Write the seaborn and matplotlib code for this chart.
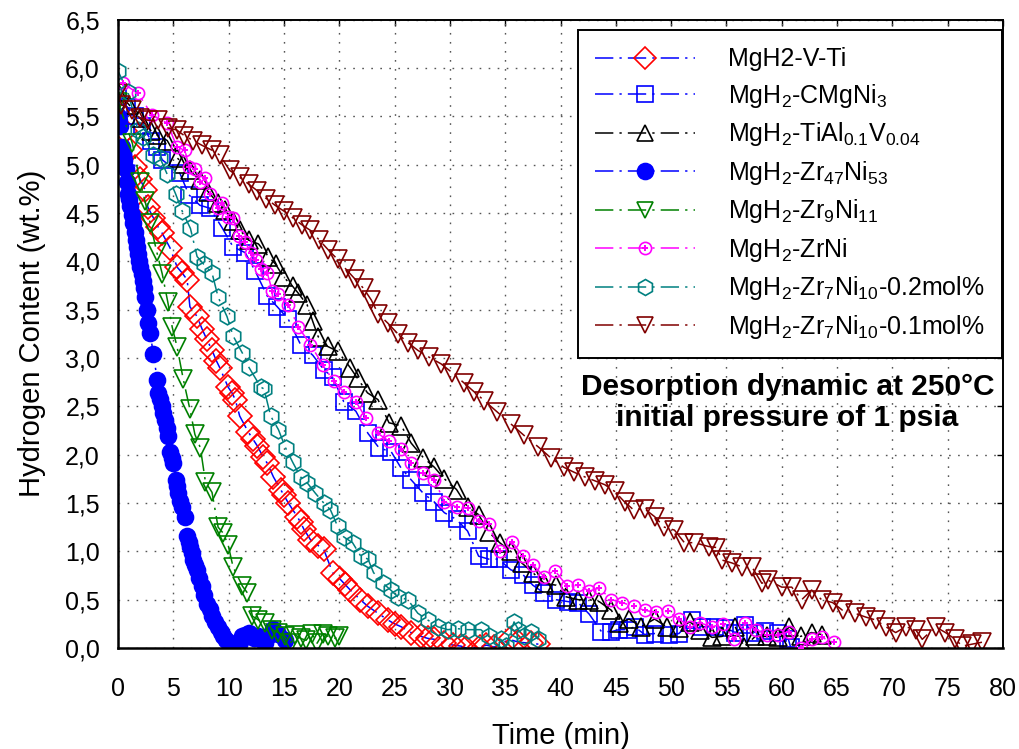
import matplotlib
matplotlib.use("Agg")
import matplotlib.pyplot as plt
from matplotlib.lines import Line2D
from matplotlib.legend_handler import HandlerTuple
from matplotlib.ticker import FuncFormatter, MultipleLocator
import seaborn as sns

# ---- desorption curves: time (min) vs hydrogen content (wt.%) ----
vti_t = [0.0, 0.6, 1.1, 1.55, 2.0, 2.45, 2.7, 3.2, 3.6, 4.0, 4.7, 5.35, 5.8, 6.25, 6.5,
         7.15, 7.6, 8.0, 8.5, 8.9, 9.2, 9.95, 10.3, 10.6, 11.0, 11.75, 12.2, 12.6, 13.1,
         13.5, 14.05, 14.7, 15.0, 15.4, 16.2, 16.5, 16.8, 17.4, 18.1, 18.6, 19.4, 20.1,
         20.5, 21.0, 21.9, 22.6, 23.5, 24.4, 25.0, 25.6, 26.5, 27.4, 28.0, 28.6, 29.5,
         30.3, 31.0, 31.5, 32.7, 33.3, 34.0, 35.4, 36.2, 37.3, 38.0]
vti_h = [5.57, 5.35, 5.15, 4.98, 4.85, 4.74, 4.56, 4.45, 4.36, 4.29, 4.14, 3.94, 3.88,
         3.81, 3.53, 3.43, 3.30, 3.20, 3.08, 2.97, 2.90, 2.70, 2.64, 2.57, 2.40, 2.24,
         2.16, 2.09, 1.98, 1.91, 1.77, 1.64, 1.58, 1.50, 1.36, 1.30, 1.23, 1.12, 1.06,
         1.02, 0.78, 0.71, 0.66, 0.60, 0.50, 0.43, 0.36, 0.29, 0.25, 0.22, 0.16, 0.12,
         0.10, 0.09, 0.05, 0.03, 0.02, 0.00, 0.01, 0.03, 0.01, 0.09, 0.06, 0.05, 0.04]

cmgni_t = [0.0, 0.8, 1.5, 2.2, 3.0, 3.5, 4.0, 5.6, 6.4, 7.4, 8.3, 9.4, 10.4, 11.5, 12.4,
           13.5, 14.4, 15.4, 16.5, 17.6, 18.6, 19.4, 20.4, 21.5, 22.6, 23.6, 24.7, 25.6,
           26.5, 27.6, 28.6, 29.5, 30.6, 31.6, 32.6, 33.5, 34.4, 35.5, 36.6, 37.5, 38.5,
           39.6, 40.7, 41.6, 42.6, 43.7, 44.6, 45.3, 46.1, 46.7, 47.6, 48.5, 49.8, 50.7,
           51.9, 52.8, 54.0, 54.9, 55.8, 56.7, 57.6, 58.5, 59.7, 60.6, 60.8]
cmgni_h = [5.70, 5.60, 5.50, 5.40, 5.25, 5.18, 5.05, 4.91, 4.69, 4.58, 4.55, 4.35, 4.15,
           4.09, 3.90, 3.64, 3.53, 3.40, 3.14, 3.03, 2.88, 2.80, 2.55, 2.45, 2.22, 2.07,
           2.03, 1.86, 1.74, 1.60, 1.51, 1.40, 1.33, 1.21, 0.95, 0.92, 0.92, 0.81, 0.76,
           0.65, 0.57, 0.50, 0.48, 0.47, 0.35, 0.17, 0.17, 0.19, 0.19, 0.22, 0.14, 0.15,
           0.14, 0.15, 0.29, 0.22, 0.22, 0.21, 0.16, 0.24, 0.16, 0.18, 0.16, 0.09, 0.01]

tial_t = [0.0, 1.0, 2.0, 3.0, 3.5, 4.45, 5.35, 5.9, 6.5, 7.4, 8.15, 9.05, 9.7, 10.4, 11.05,
          11.8, 12.7, 13.6, 14.25, 14.95, 15.8, 16.3, 17.1, 17.6, 18.1, 18.95, 19.85, 21.0,
          21.65, 22.55, 23.5, 24.5, 25.6, 26.5, 27.6, 28.6, 29.5, 30.6, 31.6, 32.6, 33.5,
          34.5, 35.5, 36.5, 37.5, 38.5, 39.6, 40.5, 41.6, 42.6, 43.5, 44.6, 45.3, 46.2,
          47.3, 48.5, 49.6, 50.7, 51.7, 52.6, 53.7, 54.6, 55.8, 56.6, 57.6, 58.7, 59.7,
          60.7, 61.7, 62.7, 63.6]
tial_h = [5.75, 5.62, 5.48, 5.35, 5.31, 5.25, 5.07, 5.01, 4.94, 4.84, 4.72, 4.60, 4.53,
          4.42, 4.32, 4.22, 4.18, 4.05, 3.97, 3.84, 3.74, 3.67, 3.55, 3.38, 3.22, 3.12,
          3.07, 2.90, 2.79, 2.64, 2.57, 2.33, 2.30, 2.12, 1.97, 1.87, 1.75, 1.64, 1.46,
          1.38, 1.20, 1.09, 1.00, 0.88, 0.78, 0.67, 0.65, 0.53, 0.50, 0.50, 0.48, 0.39,
          0.26, 0.30, 0.22, 0.30, 0.22, 0.21, 0.27, 0.19, 0.11, 0.12, 0.22, 0.01, 0.12,
          0.12, 0.11, 0.22, 0.12, 0.16, 0.14]

zr47_t = [0.0, 0.1, 0.2, 0.35, 0.45, 0.55, 0.7, 0.8, 0.9, 1.0, 1.1, 1.25, 1.35, 1.5, 1.6,
          1.7, 1.8, 1.9, 2.0, 2.15, 2.25, 2.35, 2.45, 2.6, 2.75, 2.9, 3.2, 3.55, 3.65, 3.8,
          4.0, 4.1, 4.25, 4.4, 4.5, 4.7, 4.85, 5.0, 5.2, 5.3, 5.45, 5.6, 5.8, 6.05, 6.25,
          6.4, 6.5, 6.65, 6.8, 7.0, 7.15, 7.35, 7.6, 7.8, 8.05, 8.3, 8.5, 8.8, 9.05, 9.3,
          9.5, 9.8, 10.15, 10.5, 10.8, 11.0, 11.25, 11.5, 11.8, 12.0, 12.25, 12.5, 12.7,
          13.0, 13.3, 13.6, 14.0, 14.5, 15.1]
zr47_h = [5.50, 5.45, 5.40, 5.18, 5.12, 5.05, 4.96, 4.82, 4.70, 4.64, 4.57, 4.48, 4.40,
          4.30, 4.22, 4.15, 4.08, 4.00, 3.94, 3.87, 3.80, 3.72, 3.63, 3.50, 3.36, 3.26,
          3.04, 2.77, 2.64, 2.58, 2.50, 2.43, 2.36, 2.28, 2.19, 2.03, 1.97, 1.91, 1.74,
          1.68, 1.60, 1.52, 1.46, 1.36, 1.16, 1.10, 1.05, 0.98, 0.91, 0.86, 0.81, 0.72,
          0.64, 0.55, 0.46, 0.40, 0.33, 0.27, 0.22, 0.17, 0.12, 0.08, 0.05, 0.03, 0.01,
          0.06, 0.12, 0.14, 0.16, 0.13, 0.10, 0.11, 0.12, 0.08, 0.05, 0.12, 0.20, 0.15,
          0.08]

zr9_t = [0.0, 1.3, 2.0, 2.45, 2.9, 3.5, 4.0, 4.5, 4.9, 5.35, 5.9, 6.5, 6.95, 7.45, 7.9,
         8.5, 9.05, 9.5, 9.95, 10.4, 11.25, 11.7, 12.15, 12.7, 13.3, 13.95, 14.5, 15.1,
         15.6, 16.0, 16.5, 17.0, 17.5, 18.0, 18.5, 19.0, 19.6, 20.0]
zr9_h = [5.65, 5.22, 4.82, 4.62, 4.40, 4.10, 3.87, 3.58, 3.32, 3.11, 2.78, 2.47, 2.21,
         2.07, 1.72, 1.61, 1.25, 1.19, 1.07, 0.84, 0.64, 0.57, 0.33, 0.29, 0.26, 0.19,
         0.16, 0.12, 0.05, 0.14, 0.10, 0.08, 0.15, 0.05, 0.15, 0.12, 0.10, 0.12]

zrni_t = [0.45, 1.8, 3.1, 4.45, 5.35, 6.05, 6.4, 7.0, 7.45, 7.9, 8.35, 9.0, 9.4, 9.9, 10.4,
          10.9, 11.5, 12.0, 12.5, 12.9, 13.5, 13.95, 14.5, 15.4, 16.3, 17.4, 18.5, 19.5,
          20.4, 21.5, 22.4, 23.5, 24.5, 25.6, 26.5, 27.6, 28.6, 29.5, 30.6, 31.6, 32.6,
          33.5, 34.5, 35.6, 36.6, 37.5, 38.5, 39.5, 40.6, 41.6, 42.6, 43.5, 44.6, 45.6,
          46.6, 47.6, 48.6, 49.7, 50.7, 51.7, 52.6, 53.7, 54.7, 55.7, 56.7, 57.7, 58.7,
          59.7, 60.7, 61.7, 62.7, 63.6, 64.7]
zrni_h = [5.84, 5.74, 5.51, 5.43, 5.18, 5.15, 4.98, 4.96, 4.82, 4.86, 4.70, 4.55, 4.60,
          4.46, 4.45, 4.26, 4.20, 4.09, 4.01, 3.92, 3.88, 3.69, 3.66, 3.55, 3.32, 3.14,
          2.93, 2.76, 2.65, 2.55, 2.38, 2.22, 2.14, 2.06, 1.91, 1.81, 1.74, 1.51, 1.46,
          1.45, 1.31, 1.28, 1.00, 1.10, 0.95, 0.86, 0.74, 0.80, 0.64, 0.65, 0.59, 0.62,
          0.50, 0.47, 0.43, 0.39, 0.37, 0.38, 0.30, 0.22, 0.26, 0.22, 0.25, 0.09, 0.26,
          0.19, 0.14, 0.14, 0.17, 0.00, 0.09, 0.11, 0.06]

zr7_02_t = [0.0, 0.9, 1.8, 2.3, 3.2, 3.8, 4.45, 5.2, 5.8, 6.55, 7.15, 7.75, 8.5, 9.05, 9.85,
            10.4, 11.25, 11.8, 12.9, 13.2, 13.8, 14.5, 15.15, 15.8, 16.5, 17.1, 17.85,
            18.6, 19.2, 19.85, 20.4, 21.2, 21.95, 22.6, 23.1, 23.95, 24.65, 25.3, 26.2,
            27.1, 28.0, 28.9, 29.8, 30.7, 31.6, 32.8, 33.5, 34.6, 35.1, 35.8, 36.2, 36.7,
            37.3, 38.0]
zr7_02_h = [5.97, 5.75, 5.36, 5.29, 5.10, 5.07, 4.90, 4.70, 4.52, 4.34, 4.05, 3.97, 3.88,
            3.63, 3.43, 3.23, 3.05, 2.91, 2.70, 2.68, 2.40, 2.26, 2.07, 1.92, 1.77, 1.71,
            1.60, 1.50, 1.43, 1.26, 1.15, 1.09, 0.95, 0.92, 0.78, 0.67, 0.60, 0.53, 0.50,
            0.36, 0.29, 0.22, 0.19, 0.20, 0.19, 0.19, 0.12, 0.09, 0.02, 0.27, 0.19, 0.12,
            0.17, 0.09]

zr7_01_t = [0.0, 0.3, 1.3, 2.0, 2.7, 3.6, 4.5, 5.3, 6.0, 6.8, 7.6, 8.5, 9.2, 10.1, 11.0,
            11.8, 12.6, 13.4, 14.2, 15.0, 15.8, 16.6, 17.4, 18.2, 19.0, 19.85, 20.6, 21.4,
            22.2, 22.9, 23.5, 24.4, 25.3, 26.2, 27.1, 28.1, 29.2, 30.2, 31.3, 32.2, 33.1,
            34.3, 35.5, 36.7, 38.0, 39.1, 40.3, 41.2, 42.2, 43.1, 44.0, 44.9, 45.8, 46.6,
            47.6, 48.5, 49.4, 50.3, 51.2, 52.1, 53.4, 54.1, 54.6, 55.5, 56.4, 57.3, 58.2,
            58.8, 60.0, 60.9, 61.8, 62.7, 63.6, 64.6, 65.5, 66.6, 67.6, 68.5, 69.4, 70.3,
            71.2, 72.1, 72.7, 73.9, 74.8, 75.7, 76.3, 77.2, 78.1]
zr7_01_h = [5.74, 5.62, 5.57, 5.48, 5.46, 5.46, 5.38, 5.36, 5.30, 5.25, 5.20, 5.15, 5.10,
            4.94, 4.87, 4.80, 4.73, 4.65, 4.58, 4.52, 4.45, 4.38, 4.32, 4.22, 4.12, 4.02,
            3.92, 3.82, 3.72, 3.60, 3.46, 3.36, 3.25, 3.16, 3.08, 3.01, 2.94, 2.85, 2.74,
            2.65, 2.56, 2.44, 2.32, 2.20, 2.08, 1.97, 1.87, 1.82, 1.77, 1.73, 1.69, 1.62,
            1.51, 1.43, 1.44, 1.36, 1.25, 1.22, 1.09, 1.09, 1.05, 1.04, 0.91, 0.88, 0.84,
            0.84, 0.67, 0.70, 0.63, 0.63, 0.50, 0.60, 0.50, 0.47, 0.39, 0.36, 0.32, 0.29,
            0.22, 0.16, 0.22, 0.19, 0.09, 0.22, 0.16, 0.09, 0.02, 0.04, 0.06]

labels = [
    "MgH2-V-Ti",
    r"MgH$_2$-CMgNi$_3$",
    r"MgH$_2$-TiAl$_{0.1}$V$_{0.04}$",
    r"MgH$_2$-Zr$_{47}$Ni$_{53}$",
    r"MgH$_2$-Zr$_9$Ni$_{11}$",
    r"MgH$_2$-ZrNi",
    r"MgH$_2$-Zr$_7$Ni$_{10}$-0.2mol%",
    r"MgH$_2$-Zr$_7$Ni$_{10}$-0.1mol%",
]
x_ticks = list(range(0, 85, 5))

# ---- style ----
sns.set_style("white")
plt.rcParams["font.family"] = ["Liberation Sans", "DejaVu Sans"]
plt.rcParams["mathtext.fontset"] = "custom"
plt.rcParams["mathtext.rm"] = "Liberation Sans"
plt.rcParams["mathtext.it"] = "Liberation Sans:italic"
plt.rcParams["mathtext.bf"] = "Liberation Sans:bold"
for key in ("text.color", "axes.labelcolor", "xtick.color", "ytick.color"):
    plt.rcParams[key] = "black"

DASHDOT = (0, (12, 4, 1.5, 4))
LW = 1.1
MEW = 1.2

# (times, contents, line colour, marker, marker colour, marker size, filled)
series = [
    (vti_t, vti_h, "#0000FF", "D", "#FF0000", 12.0, False),
    (cmgni_t, cmgni_h, "#0000FF", "s", "#0000FF", 11.0, False),
    (tial_t, tial_h, "#000000", "^", "#000000", 13.5, False),
    (zr47_t, zr47_h, "#0000FF", "o", "#0000FF", 11.5, True),
    (zr9_t, zr9_h, "#008000", "v", "#008000", 13.5, False),
    (zrni_t, zrni_h, "#FF00FF", "o", "#FF00FF", 8.8, False),
    (zr7_02_t, zr7_02_h, "#008080", "h", "#008080", 12.0, False),
    (zr7_01_t, zr7_01_h, "#800000", "v", "#800000", 13.5, False),
]

fig = plt.figure(figsize=(10.19, 7.49), dpi=100)
ax = fig.add_axes([0.1158, 0.1348, 0.8685, 0.8389])

handles = []
for t, h, lc, mk, mc, ms, filled in series:
    sns.lineplot(x=t, y=h, ax=ax, estimator=None, sort=False, legend=False,
                 color=lc, linestyle=DASHDOT, linewidth=LW,
                 marker=mk, markersize=ms,
                 markerfacecolor=mc if filled else "none",
                 markeredgecolor=mc, markeredgewidth=MEW)
    handles.append(Line2D([], [], color=lc, linestyle=DASHDOT, linewidth=LW,
                          marker=mk, markersize=min(ms, 11.5),
                          markerfacecolor=mc if filled else "none",
                          markeredgecolor=mc, markeredgewidth=MEW))

# centre dot of the ZrNi symbols
sns.scatterplot(x=zrni_t, y=zrni_h, ax=ax, marker="P", s=18, color="#FF00FF",
                linewidth=0, legend=False, zorder=3)
dot = Line2D([], [], linestyle="none", marker="P", markersize=4.2,
             markerfacecolor="#FF00FF", markeredgewidth=0)
handles[5] = (handles[5], dot)

# ---- axes ----
ax.set_xlim(0, 80)
ax.set_ylim(0, 6.5)
ax.set_xticks(x_ticks)
ax.yaxis.set_major_locator(MultipleLocator(0.5))
ax.yaxis.set_major_formatter(FuncFormatter(lambda v, p: f"{v:.1f}".replace(".", ",")))
ax.tick_params(axis="both", which="major", direction="out", length=7, width=1.3,
               labelsize=18, colors="black")
ax.tick_params(axis="x", pad=14)
ax.tick_params(axis="y", pad=6)
ax.set_axisbelow(True)
ax.grid(True, color="#555555", linestyle=(0, (1.2, 5.3)), linewidth=1.0)
for side in ("left", "bottom"):
    ax.spines[side].set_linewidth(1.8)
for side in ("top", "right"):
    ax.spines[side].set_linewidth(1.4)
for sp in ax.spines.values():
    sp.set_color("black")

# inward ticks on the opposite spines
top = ax.secondary_xaxis("top")
top.set_xticks(x_ticks)
top.tick_params(direction="in", length=4, width=1.0, labeltop=False)
top.spines["top"].set_visible(False)
right = ax.secondary_yaxis("right")
right.yaxis.set_major_locator(MultipleLocator(0.5))
right.tick_params(direction="in", length=4, width=1.0, labelright=False)
right.spines["right"].set_visible(False)

ax.set_xlabel("Time (min)", fontsize=21, labelpad=15)
ax.set_ylabel("Hydrogen Content (wt.%)", fontsize=21, labelpad=14)

ax.text(60.5, 2.54, "Desorption dynamic at 250°C\ninitial pressure of 1 psia",
        ha="center", va="center", fontsize=21.5, fontweight="bold", linespacing=1.12)

leg = ax.legend(handles=handles, labels=labels, loc="upper right",
                bbox_to_anchor=(0.999, 0.984), borderaxespad=0, fontsize=18,
                handlelength=4.0, handletextpad=1.3, labelspacing=0.42,
                borderpad=0.7, frameon=True, fancybox=False, framealpha=1,
                edgecolor="black", numpoints=1,
                handler_map={tuple: HandlerTuple(ndivide=1)})
leg.get_frame().set_linewidth(1.4)

fig.savefig("out.png", dpi=100)
